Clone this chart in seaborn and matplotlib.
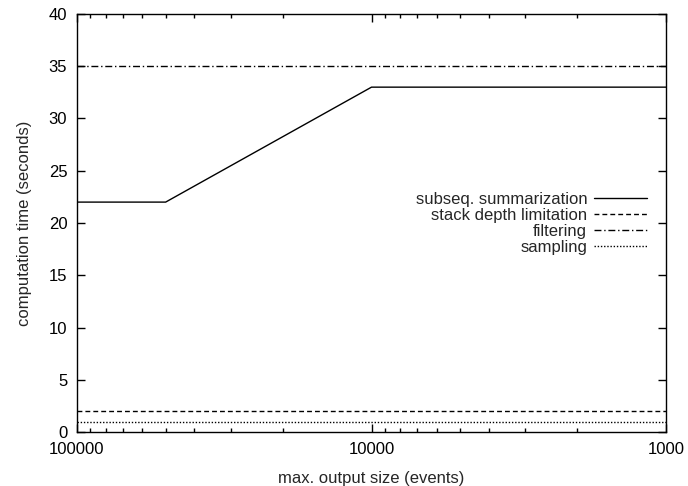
import pandas as pd
import matplotlib
matplotlib.use("Agg")
import matplotlib.pyplot as plt
import seaborn as sns
from matplotlib.ticker import FixedLocator, FixedFormatter, LogLocator, NullFormatter

# ----------------------------------------------------------
# DATOS
# ----------------------------------------------------------

x_summ = [100000, 50000, 10000, 1000]
y_summ = [22, 22, 33, 33]

x_flat = [100000, 1000]
y_stack = [2, 2]
y_filter = [35, 35]
y_sampling = [1, 1]

nombres = ["subseq. summarization", "stack depth limitation", "filtering", "sampling"]

x_ticks = [100000, 10000, 1000]
x_labels = ["100000", "10000", "1000"]
y_ticks = [0, 5, 10, 15, 20, 25, 30, 35, 40]

df = pd.concat([
    pd.DataFrame({"x": x_summ, "y": y_summ, "serie": nombres[0]}),
    pd.DataFrame({"x": x_flat, "y": y_stack, "serie": nombres[1]}),
    pd.DataFrame({"x": x_flat, "y": y_filter, "serie": nombres[2]}),
    pd.DataFrame({"x": x_flat, "y": y_sampling, "serie": nombres[3]}),
], ignore_index=True)

# ----------------------------------------------------------
# ESTILO
# ----------------------------------------------------------

sns.set_style("ticks")
plt.rcParams["font.family"] = ["Liberation Sans", "DejaVu Sans"]
FS = 12

dashes = {
    nombres[0]: "",
    nombres[1]: (3.5, 2.2),
    nombres[2]: (5, 2, 1, 2),
    nombres[3]: (1, 1.3),
}

fig = plt.figure(figsize=(6.88, 4.86), dpi=100)
ax = fig.add_axes([77 / 688, 1 - 432 / 486, 589 / 688, 418 / 486])

sns.lineplot(
    data=df, x="x", y="y",
    style="serie", style_order=nombres, dashes=dashes,
    color="black", linewidth=1.0, ax=ax, sort=False,
)

ax.set_xscale("log")
ax.set_xlim(100000, 1000)
ax.set_ylim(0, 40)

ax.xaxis.set_major_locator(FixedLocator(x_ticks))
ax.xaxis.set_major_formatter(FixedFormatter(x_labels))
ax.xaxis.set_minor_locator(LogLocator(base=10, subs=range(2, 10)))
ax.xaxis.set_minor_formatter(NullFormatter())
ax.set_yticks(y_ticks)

ax.tick_params(which="both", direction="in", top=True, right=True,
               width=1.0, colors="black", labelsize=FS)
ax.tick_params(axis="y", pad=7)
ax.tick_params(axis="x", pad=7)
ax.tick_params(which="major", length=6)
ax.tick_params(which="minor", length=3)

for s in ax.spines.values():
    s.set_linewidth(1.0)
    s.set_color("black")

ax.set_xlabel("max. output size (events)", fontsize=FS, labelpad=10)
ax.set_ylabel("computation time (seconds)", fontsize=FS, labelpad=12)

# ----------------------------------------------------------
# LEYENDA
# ----------------------------------------------------------

ax.legend(
    loc="center right",
    bbox_to_anchor=(0.968, 0.499),
    frameon=False,
    markerfirst=False,
    handlelength=3.2,
    handletextpad=0.4,
    labelspacing=0.05,
    borderaxespad=0,
    borderpad=0,
    fontsize=FS,
)

fig.savefig("out.png", dpi=100)
plt.close(fig)
